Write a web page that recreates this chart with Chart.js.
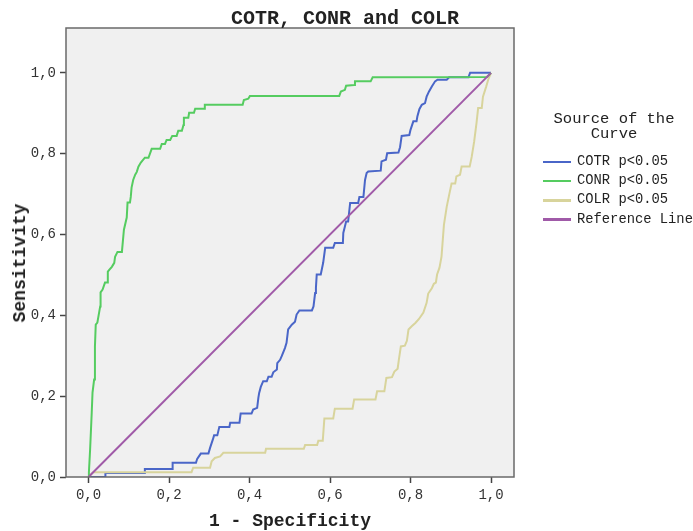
<!DOCTYPE html>
<html><head><meta charset="utf-8">
<script src="https://cdn.jsdelivr.net/npm/chart.js@4.4.1/dist/chart.umd.min.js"></script>
<style>
html,body{margin:0;padding:0;background:#fff;}
#wrap{position:relative;width:693px;height:531px;overflow:hidden;font-family:"Liberation Mono","Courier New",monospace;color:#222;}
#c{position:absolute;left:0;top:0;}
.t{position:absolute;white-space:nowrap;line-height:1;}
.ctr{transform:translate(-50%,-50%);}
.lg{position:absolute;height:0;}
</style></head><body>
<div id="wrap">
<canvas id="c" width="693" height="531"></canvas>
<div class="t ctr" id="title" style="left:345px;top:19px;font-size:20px;font-weight:bold;">COTR, CONR and COLR</div>
<div class="t ctr" id="xtitle" style="left:290px;top:521px;font-size:18px;font-weight:bold;">1 - Specificity</div>
<div class="t" id="ytitle" style="left:20px;top:263px;font-size:18px;font-weight:bold;transform:translate(-50%,-50%) rotate(-90deg);">Sensitivity</div>
<div id="legend"></div>
</div>
<script>
// ---- data ----
const xTicks = [0, 0.2, 0.4, 0.6, 0.8, 1.0];
const yTicks = [0, 0.2, 0.4, 0.6, 0.8, 1.0];
const legendTitle = ['Source of the', 'Curve'];
const seriesNames = ['COTR p<0.05', 'CONR p<0.05', 'COLR p<0.05', 'Reference Line'];

const cotrX = [0,0.041,0.042,0.139,0.140,0.208,0.209,0.267,0.270,0.279,0.298,0.302,0.309,0.312,0.320,0.325,0.350,0.352,0.375,0.378,0.405,0.409,0.419,0.422,0.424,0.428,0.434,0.443,0.447,0.455,0.459,0.468,0.469,0.476,0.480,0.488,0.492,0.496,0.505,0.513,0.517,0.524,0.555,0.559,0.563,0.565,0.567,0.577,0.583,0.588,0.608,0.612,0.632,0.633,0.637,0.640,0.645,0.650,0.670,0.673,0.683,0.687,0.691,0.695,0.726,0.728,0.739,0.742,0.770,0.774,0.778,0.797,0.800,0.807,0.815,0.817,0.822,0.828,0.836,0.840,0.846,0.853,0.861,0.867,0.890,0.896,0.944,0.948,1.0];
const cotrY = [0,0,0.010,0.010,0.020,0.020,0.035,0.035,0.045,0.058,0.058,0.072,0.093,0.103,0.103,0.124,0.124,0.134,0.134,0.157,0.157,0.167,0.171,0.196,0.208,0.223,0.237,0.237,0.248,0.248,0.259,0.266,0.282,0.290,0.299,0.319,0.332,0.365,0.377,0.384,0.402,0.412,0.412,0.422,0.455,0.468,0.501,0.501,0.530,0.567,0.567,0.579,0.579,0.604,0.620,0.632,0.632,0.678,0.678,0.693,0.693,0.735,0.752,0.756,0.758,0.781,0.785,0.801,0.803,0.816,0.844,0.846,0.859,0.880,0.880,0.892,0.910,0.921,0.925,0.941,0.954,0.966,0.979,0.983,0.983,0.989,0.989,1.0,1.0];

const conrX = [0,0.001,0.004,0.008,0.010,0.014,0.016,0.018,0.022,0.029,0.030,0.035,0.041,0.047,0.048,0.052,0.058,0.064,0.066,0.072,0.083,0.088,0.095,0.097,0.103,0.105,0.107,0.111,0.116,0.120,0.124,0.130,0.140,0.149,0.157,0.178,0.182,0.190,0.194,0.203,0.208,0.219,0.223,0.232,0.236,0.237,0.248,0.250,0.262,0.265,0.287,0.289,0.383,0.386,0.397,0.401,0.623,0.627,0.637,0.640,0.660,0.662,0.701,0.706,0.990,1.0];
const conrY = [0,0.011,0.068,0.159,0.209,0.241,0.323,0.377,0.382,0.422,0.457,0.464,0.481,0.481,0.508,0.513,0.520,0.530,0.545,0.557,0.557,0.612,0.642,0.679,0.679,0.693,0.716,0.735,0.748,0.755,0.768,0.778,0.790,0.790,0.812,0.812,0.824,0.824,0.834,0.834,0.844,0.844,0.857,0.857,0.871,0.889,0.889,0.901,0.901,0.911,0.911,0.921,0.921,0.933,0.936,0.943,0.943,0.954,0.958,0.968,0.970,0.979,0.979,0.989,0.990,1.0];

const colrX = [0,0.012,0.256,0.260,0.302,0.306,0.314,0.327,0.335,0.439,0.441,0.535,0.538,0.568,0.571,0.582,0.586,0.608,0.612,0.656,0.660,0.713,0.717,0.735,0.740,0.754,0.760,0.768,0.771,0.776,0.786,0.791,0.795,0.803,0.812,0.821,0.832,0.840,0.844,0.853,0.858,0.863,0.866,0.872,0.877,0.883,0.890,0.896,0.902,0.911,0.914,0.923,0.927,0.947,0.952,0.958,0.964,0.968,0.977,0.980,0.988,0.993,1.0];
const colrY = [0,0.012,0.012,0.023,0.023,0.039,0.047,0.051,0.060,0.060,0.070,0.070,0.079,0.079,0.090,0.090,0.145,0.145,0.169,0.169,0.192,0.192,0.212,0.212,0.245,0.247,0.261,0.268,0.290,0.323,0.325,0.337,0.365,0.373,0.381,0.391,0.407,0.431,0.454,0.467,0.478,0.481,0.501,0.518,0.545,0.624,0.669,0.698,0.726,0.726,0.744,0.748,0.768,0.768,0.792,0.829,0.876,0.913,0.913,0.941,0.966,0.983,1.0];

const refX = [0, 1];
const refY = [0, 1];

const colors = ['#4a66c8', '#55cc60', '#d8d49c', '#a05aa8'];

// ---- build ----
const pts = (xs, ys) => xs.map((v, i) => ({x: v, y: ys[i]}));
const fmt = v => v.toFixed(1).replace('.', ',');
const tickFont = {family: '"Liberation Mono", "Courier New", monospace', size: 14};

const seriesData = [pts(cotrX, cotrY), pts(conrX, conrY), pts(colrX, colrY), pts(refX, refY)];
const orders = [3, 1, 2, 0];
const datasets = seriesData.map((d, i) => ({
  label: seriesNames[i], data: d, borderColor: colors[i], backgroundColor: colors[i],
  borderWidth: 2, pointRadius: 0, showLine: true, fill: false, tension: 0, order: orders[i]
}));

const framePlugin = {
  id: 'frame',
  beforeDraw(chart) {
    const {ctx, chartArea: a} = chart;
    ctx.save(); ctx.fillStyle = '#f0f0f0';
    ctx.fillRect(a.left, a.top, a.right - a.left, a.bottom - a.top); ctx.restore();
  },
  afterDraw(chart) {
    const {ctx, chartArea: a} = chart;
    ctx.save(); ctx.strokeStyle = '#6a6a6a'; ctx.lineWidth = 1.5;
    ctx.strokeRect(a.left, a.top, a.right - a.left, a.bottom - a.top); ctx.restore();
  }
};

new Chart(document.getElementById('c'), {
  type: 'scatter',
  data: {datasets},
  options: {
    responsive: false, animation: false, events: [],
    layout: {padding: {left: 0, top: 28, right: 179, bottom: 0}},
    plugins: {legend: {display: false}, tooltip: {enabled: false}, title: {display: false}},
    scales: {
      x: {
        type: 'linear', min: -0.0559, max: 1.0571,
        afterBuildTicks: s => { s.ticks = xTicks.map(v => ({value: v})); },
        afterFit: s => { s.height = 54; },
        ticks: {callback: v => fmt(v), font: tickFont, color: '#333', padding: 4, maxRotation: 0, autoSkip: false},
        grid: {drawOnChartArea: false, drawTicks: true, tickLength: 6, tickColor: '#444', tickWidth: 1.5},
        border: {display: false}
      },
      y: {
        type: 'linear', min: 0, max: 1.111,
        afterBuildTicks: s => { s.ticks = yTicks.map(v => ({value: v})); },
        afterFit: s => { s.width = 66; },
        ticks: {callback: v => fmt(v), font: tickFont, color: '#333', padding: 4, autoSkip: false},
        grid: {drawOnChartArea: false, drawTicks: true, tickLength: 6, tickColor: '#444', tickWidth: 1.5},
        border: {display: false}
      }
    }
  },
  plugins: [framePlugin]
});

// ---- HTML legend ----
const lg = document.getElementById('legend');
legendTitle.forEach((t, i) => {
  const d = document.createElement('div');
  d.className = 't ctr'; d.textContent = t;
  d.style.cssText = `left:614px;top:${120 + i * 15}px;font-size:15.5px;`;
  lg.appendChild(d);
});
seriesNames.forEach((n, i) => {
  const y = 162 + i * 19.2;
  const ln = document.createElement('div');
  ln.style.cssText = `position:absolute;left:543px;top:${y - 1.25}px;width:28px;height:2.5px;background:${colors[i]};`;
  lg.appendChild(ln);
  const tx = document.createElement('div');
  tx.className = 't'; tx.textContent = n;
  tx.style.cssText = `left:577px;top:${y}px;font-size:13.8px;transform:translateY(-50%);`;
  lg.appendChild(tx);
});
</script>
</body></html>
